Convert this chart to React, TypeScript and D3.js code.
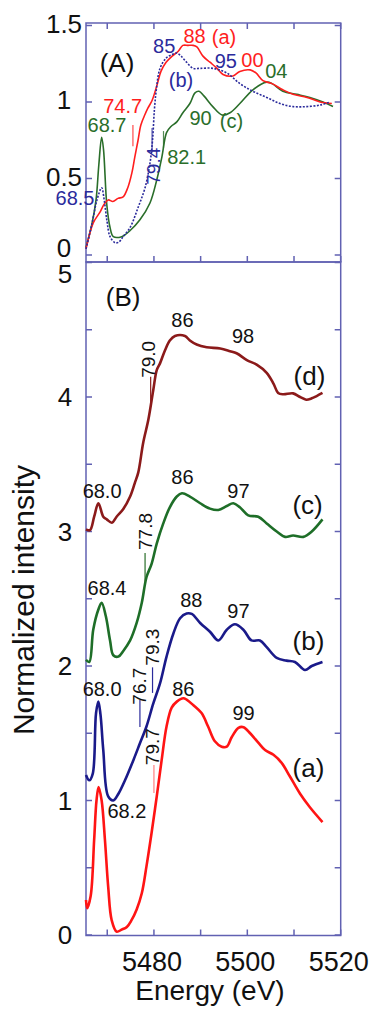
import React from "react";
import * as d3 from "d3";

// ---- data -------------------------------------------------------------

const energyRange = [5465.45, 5520];
const energyTicks = [5470, 5480, 5490, 5500, 5510, 5520];
const energyTickLabels = [5480, 5500, 5520];
const ticksA = [0, 0.5, 1, 1.5];
const ticksB = [0, 0.5, 1, 1.5, 2, 2.5, 3, 3.5, 4, 4.5, 5];
const tickLabelsB = [0, 1, 2, 3, 4, 5];

// panel (A): [energy, normalized intensity]
const curveAa = [
  [5465.45, 0.04], [5467.0, 0.21], [5468.45, 0.28], [5469.3, 0.33], [5470.2, 0.36],
  [5471.2, 0.35], [5472.3, 0.37], [5473.4, 0.38], [5474.4, 0.44], [5475.3, 0.54],
  [5475.9, 0.64], [5476.6, 0.75], [5477.2, 0.85], [5478.1, 0.92], [5478.7, 0.96],
  [5479.6, 1.01], [5480.65, 1.11], [5481.5, 1.2], [5482.6, 1.26], [5483.9, 1.3],
  [5485.15, 1.33], [5486.2, 1.37], [5487.3, 1.37], [5488.4, 1.37], [5489.2, 1.36],
  [5490.5, 1.3], [5492.0, 1.26], [5493.5, 1.22], [5494.8, 1.18], [5496.9, 1.17],
  [5498.4, 1.2], [5500.6, 1.21], [5501.85, 1.19], [5503.35, 1.14], [5505.3, 1.12],
  [5507.6, 1.08], [5509.8, 1.05], [5512.8, 1.03], [5515.6, 1.0], [5518.1, 0.99],
];
const curveAb = [
  [5465.45, 0.04], [5466.7, 0.2], [5467.8, 0.36], [5468.8, 0.44], [5469.3, 0.37],
  [5469.95, 0.22], [5470.6, 0.12], [5471.7, 0.08], [5472.5, 0.085], [5473.4, 0.12],
  [5474.9, 0.18], [5476.6, 0.31], [5478.1, 0.44], [5479.15, 0.6], [5479.7, 0.75],
  [5480.1, 0.95], [5480.55, 1.09], [5481.3, 1.22], [5482.7, 1.29], [5483.9, 1.31],
  [5484.9, 1.32], [5485.8, 1.3], [5487.0, 1.26], [5488.4, 1.22], [5489.9, 1.22],
  [5492.6, 1.22], [5495.6, 1.19], [5498.4, 1.12], [5501.2, 1.07], [5504.15, 1.03],
  [5507.0, 0.99], [5509.8, 0.97], [5512.7, 0.97], [5515.6, 0.98], [5517.7, 1.0],
];
const curveAc = [
  [5465.45, 0.05], [5466.7, 0.2], [5467.6, 0.36], [5468.2, 0.59], [5468.8, 0.77],
  [5469.2, 0.69], [5469.9, 0.33], [5470.6, 0.18], [5471.3, 0.12], [5473.1, 0.12],
  [5474.9, 0.16], [5477.0, 0.23], [5479.15, 0.34], [5480.6, 0.49], [5481.7, 0.64],
  [5482.7, 0.8], [5483.65, 0.84], [5484.9, 0.87], [5486.2, 0.93], [5487.7, 0.99],
  [5488.8, 1.06], [5489.65, 1.07], [5490.7, 1.04], [5492.6, 0.97], [5494.6, 0.915],
  [5496.3, 0.93], [5498.4, 0.99], [5501.2, 1.08], [5504.15, 1.13], [5505.3, 1.12],
  [5507.6, 1.07], [5510.6, 1.05], [5513.4, 1.03], [5516.2, 1.0], [5518.35, 0.97],
];

// panel (B): [energy, normalized intensity]
const curveBa = [
  [5465.45, 0.26], [5465.7, 0.2], [5466.45, 0.29], [5467.2, 0.71], [5467.7, 1.0],
  [5468.15, 1.1], [5468.8, 1.0], [5469.5, 0.71], [5470.2, 0.36], [5470.95, 0.11],
  [5472.0, 0.025], [5473.1, 0.04], [5474.2, 0.06], [5475.2, 0.11], [5476.3, 0.19],
  [5477.4, 0.31], [5478.4, 0.51], [5479.5, 0.76], [5480.6, 1.03], [5481.65, 1.3],
  [5482.7, 1.55], [5483.8, 1.69], [5484.9, 1.735], [5486.3, 1.76], [5487.0, 1.75],
  [5488.4, 1.71], [5490.2, 1.65], [5491.6, 1.55], [5493.05, 1.44], [5494.5, 1.4],
  [5495.6, 1.4], [5496.65, 1.47], [5498.1, 1.54], [5499.2, 1.545], [5500.6, 1.5],
  [5502.35, 1.43], [5503.8, 1.375], [5505.6, 1.34], [5507.35, 1.28], [5509.1, 1.18],
  [5511.3, 1.05], [5513.4, 0.95], [5516.1, 0.84],
];
const curveBb = [
  [5465.45, 1.19], [5466.15, 1.15], [5466.9, 1.2], [5467.6, 1.65], [5468.1, 1.735],
  [5468.55, 1.64], [5469.15, 1.375], [5470.2, 1.03], [5471.3, 1.0], [5472.4, 1.05],
  [5473.8, 1.15], [5475.6, 1.3], [5477.0, 1.425], [5478.4, 1.55], [5479.85, 1.72],
  [5481.3, 1.87], [5482.7, 2.07], [5484.15, 2.24], [5485.6, 2.355], [5487.0, 2.39],
  [5488.1, 2.387], [5489.9, 2.32], [5492.0, 2.255], [5493.8, 2.19], [5495.6, 2.27],
  [5497.35, 2.31], [5499.15, 2.27], [5500.9, 2.19], [5502.7, 2.19], [5504.15, 2.14],
  [5506.3, 2.06], [5508.4, 2.04], [5510.2, 2.03], [5512.35, 1.97], [5513.8, 2.0],
  [5516.1, 2.03],
];
const curveBc = [
  [5465.45, 2.045], [5466.15, 2.03], [5467.0, 2.27], [5468.1, 2.42], [5468.8, 2.47],
  [5469.7, 2.37], [5470.6, 2.19], [5471.3, 2.08], [5472.4, 2.07], [5473.4, 2.11],
  [5474.9, 2.19], [5476.3, 2.32], [5477.4, 2.47], [5478.4, 2.66], [5479.5, 2.76],
  [5480.6, 2.91], [5482.0, 3.06], [5483.4, 3.18], [5484.9, 3.26], [5486.0, 3.284],
  [5487.7, 3.26], [5489.9, 3.21], [5492.0, 3.17], [5493.8, 3.16], [5495.6, 3.19],
  [5497.0, 3.21], [5498.4, 3.18], [5500.2, 3.12], [5502.35, 3.11], [5504.15, 3.06],
  [5506.3, 3.0], [5508.1, 2.96], [5509.8, 2.97], [5512.0, 2.96], [5513.8, 3.0],
  [5516.1, 3.09],
];
const curveBd = [
  [5465.45, 3.016], [5466.3, 3.01], [5467.2, 3.11], [5468.1, 3.21], [5469.15, 3.11],
  [5469.9, 3.09], [5471.0, 3.065], [5472.0, 3.11], [5473.4, 3.165], [5474.9, 3.26],
  [5475.9, 3.36], [5476.65, 3.44], [5477.7, 3.66], [5478.8, 3.83], [5479.85, 4.05],
  [5480.6, 4.2], [5481.3, 4.25], [5482.4, 4.35], [5483.4, 4.42], [5484.5, 4.454],
  [5486.65, 4.454], [5487.7, 4.42], [5489.15, 4.39], [5491.3, 4.37], [5494.2, 4.36],
  [5496.3, 4.34], [5497.7, 4.325], [5499.9, 4.275], [5502.0, 4.24], [5504.15, 4.18],
  [5505.6, 4.1], [5506.6, 4.03], [5507.7, 4.02], [5509.8, 4.027], [5511.3, 4.0],
  [5512.6, 3.98], [5513.8, 3.99], [5514.85, 4.007], [5516.1, 4.03],
];

// edge markers: [energy, from, to, colour key]
const markersA = [
  [5475.5, 0.71, 0.85, "a"],
  [5479.6, 0.67, 0.83, "b"],
  [5482.05, 0.7, 0.81, "c"],
];
const markersB = [
  [5479.3, 3.96, 4.15, "d"],
  [5478.1, 2.625, 2.84, "c"],
  [5479.7, 1.8, 1.99, "b"],
  [5477.0, 1.546, 1.747, "b"],
  [5480.0, 1.056, 1.264, "am"],
];

// labels: [text, energy, intensity, colour key, rotated]
const labelsA = [
  ["85", 5482.2, 1.32, "b", 0],
  ["88", 5488.7, 1.386, "a", 0],
  ["(a)", 5495.0, 1.38, "a", 0],
  ["95", 5495.4, 1.22, "b", 0],
  ["00", 5501.1, 1.23, "a", 0],
  ["04", 5506.2, 1.157, "c", 0],
  ["(b)", 5485.8, 1.1, "b", 0],
  ["74.7", 5473.3, 0.928, "a", 0],
  ["68.7", 5469.95, 0.804, "c", 0],
  ["90", 5490.0, 0.85, "c", 0],
  ["(c)", 5496.6, 0.83, "c", 0],
  ["82.1", 5487.0, 0.595, "c", 0],
  ["68.5", 5463.1, 0.325, "b", 0],
  ["79.4", 5479.9, 0.58, "b", 1],
];
const labelsB = [
  ["86", 5486.1, 4.52, "k", 0],
  ["98", 5499.1, 4.4, "k", 0],
  ["(d)", 5513.3, 4.09, "k", 0],
  ["79.0", 5478.9, 4.28, "k", 1],
  ["68.0", 5468.9, 3.25, "k", 0],
  ["86", 5486.1, 3.35, "k", 0],
  ["97", 5498.1, 3.25, "k", 0],
  ["(c)", 5512.9, 3.13, "k", 0],
  ["77.8", 5478.1, 3.0, "k", 1],
  ["68.4", 5469.95, 2.53, "k", 0],
  ["88", 5488.0, 2.44, "k", 0],
  ["97", 5498.1, 2.36, "k", 0],
  ["(b)", 5513.1, 2.12, "k", 0],
  ["79.3", 5479.6, 2.14, "k", 1],
  ["76.7", 5477.0, 1.85, "k", 1],
  ["68.0", 5468.9, 1.78, "k", 0],
  ["86", 5486.3, 1.78, "k", 0],
  ["99", 5499.2, 1.6, "k", 0],
  ["(a)", 5513.1, 1.175, "k", 0],
  ["79.7", 5479.7, 1.4, "k", 1],
  ["68.2", 5474.2, 0.87, "k", 0],
];

// ---- styles ------------------------------------------------------------

const colors = {
  a: "#ff1e1e",
  b: "#2b2b9c",
  c: "#2a6e2a",
  k: "#111",
  d: "#8b1c1c",
  am: "#ff8080",
};
const bColors = { a: "#ff1414", b: "#1a1a8a", c: "#1e6e28", d: "#8b1a1a" };
const frame = "#6161b2";
const font = "'Liberation Sans', Arial, Helvetica, sans-serif";

const left = 86;
const right = 340.7;

export default function App() {
  const x = d3.scaleLinear().domain(energyRange).range([left, right]);
  const yA = d3.scaleLinear().domain([0, 1.5]).range([255, 25.5]);
  const yB = d3.scaleLinear().domain([0, 5]).range([935, 262.5]);
  const topA = 23;
  const botA = 262;
  const botB = 935.5;

  const lineA = d3
    .line<number[]>()
    .x((d) => x(d[0]))
    .y((d) => yA(d[1]))
    .curve(d3.curveCatmullRom.alpha(0.5));
  const lineB = d3
    .line<number[]>()
    .x((d) => x(d[0]))
    .y((d) => yB(d[1]))
    .curve(d3.curveCatmullRom.alpha(0.5));

  const tick = 6;

  const renderLabel = (l: any[], y: any, size: number, key: string, col: any) => {
    const px = x(l[1]);
    const py = y(l[2]);
    if (l[4]) {
      return (
        <text
          key={key}
          transform={`translate(${px},${py}) rotate(-90)`}
          textAnchor="middle"
          dominantBaseline="central"
          fontSize={size - 1}
          fill={col[l[3]]}
        >
          {l[0]}
        </text>
      );
    }
    return (
      <text key={key} x={px} y={py} textAnchor="middle" fontSize={size} fill={col[l[3]]}>
        {l[0]}
      </text>
    );
  };

  // the "0" of (A) and the "5" of (B) sit on the same line, nudge them apart
  const labelShiftA = (v: number) => (v === 0 ? -7 : -2);
  const labelShiftB = (v: number) => (v === 5 ? 11 : 0);

  return (
    <svg
      width={376}
      height={1009}
      style={{ position: "absolute", left: 0, top: 0, background: "#fff" }}
      fontFamily={font}
    >
      <rect width={376} height={1009} fill="#fff" />

      {/* frames */}
      <rect x={left} y={topA} width={right - left} height={botA - topA} fill="none" stroke={frame} strokeWidth={1.5} />
      <rect x={left} y={botA} width={right - left} height={botB - botA} fill="none" stroke={frame} strokeWidth={1.5} />

      {/* x ticks */}
      {energyTicks.map((e) => (
        <g key={"xt" + e} stroke={frame} strokeWidth={1.5}>
          <line x1={x(e)} x2={x(e)} y1={topA} y2={topA + tick} />
          <line x1={x(e)} x2={x(e)} y1={botA} y2={botA - tick} />
          <line x1={x(e)} x2={x(e)} y1={botB} y2={botB - tick} />
        </g>
      ))}
      {energyTickLabels.map((e) => (
        <text key={"xl" + e} x={x(e) - 2} y={971} textAnchor="middle" fontSize={27} fill="#111">
          {e}
        </text>
      ))}

      {/* y ticks A */}
      {ticksA.map((v) => (
        <g key={"ya" + v}>
          <line x1={left} x2={left + tick} y1={yA(v)} y2={yA(v)} stroke={frame} strokeWidth={1.5} />
          <line x1={right} x2={right - tick} y1={yA(v)} y2={yA(v)} stroke={frame} strokeWidth={1.5} />
          <text x={64} y={yA(v) + labelShiftA(v)} textAnchor="middle" dominantBaseline="central" fontSize={26} fill="#111">
            {v}
          </text>
        </g>
      ))}

      {/* y ticks B */}
      {ticksB.map((v) => (
        <g key={"yb" + v} stroke={frame} strokeWidth={1.5}>
          <line x1={left} x2={left + tick} y1={yB(v)} y2={yB(v)} />
          <line x1={right} x2={right - tick} y1={yB(v)} y2={yB(v)} />
        </g>
      ))}
      {tickLabelsB.map((v) => (
        <text
          key={"ybl" + v}
          x={65}
          y={yB(v) + labelShiftB(v)}
          textAnchor="middle"
          dominantBaseline="central"
          fontSize={26}
          fill="#111"
        >
          {v}
        </text>
      ))}

      {/* axis titles */}
      <text x={210} y={1000} textAnchor="middle" fontSize={28} fill="#111">
        Energy (eV)
      </text>
      <text transform="translate(34,600) rotate(-90)" textAnchor="middle" fontSize={30} fill="#111">
        Normalized intensity
      </text>

      {/* panel labels */}
      <text x={x(5472.1)} y={yA(1.196)} textAnchor="middle" fontSize={26} fill="#111">
        (A)
      </text>
      <text x={x(5473.4)} y={yB(4.677)} textAnchor="middle" fontSize={26} fill="#111">
        (B)
      </text>

      {/* panel A curves */}
      <path d={lineA(curveAc) ?? ""} fill="none" stroke={colors.c} strokeWidth={1.6} />
      <path d={lineA(curveAa) ?? ""} fill="none" stroke={colors.a} strokeWidth={1.6} />
      <path d={lineA(curveAb) ?? ""} fill="none" stroke={colors.b} strokeWidth={1.6} strokeDasharray="2,1.5" />
      {markersA.map((m, i) => (
        <line
          key={"ma" + i}
          x1={x(m[0] as number)}
          x2={x(m[0] as number)}
          y1={yA(m[1] as number)}
          y2={yA(m[2] as number)}
          stroke={(colors as any)[m[3] as string]}
          strokeWidth={1.2}
          opacity={0.8}
        />
      ))}
      {labelsA.map((l, i) => renderLabel(l, yA, 20, "la" + i, colors))}

      {/* panel B curves */}
      <path d={lineB(curveBd) ?? ""} fill="none" stroke={bColors.d} strokeWidth={2.6} />
      <path d={lineB(curveBc) ?? ""} fill="none" stroke={bColors.c} strokeWidth={2.6} />
      <path d={lineB(curveBb) ?? ""} fill="none" stroke={bColors.b} strokeWidth={2.6} />
      <path d={lineB(curveBa) ?? ""} fill="none" stroke={bColors.a} strokeWidth={2.6} />
      {markersB.map((m, i) => (
        <line
          key={"mb" + i}
          x1={x(m[0] as number)}
          x2={x(m[0] as number)}
          y1={yB(m[1] as number)}
          y2={yB(m[2] as number)}
          stroke={(colors as any)[m[3] as string]}
          strokeWidth={1.2}
        />
      ))}
      {labelsB.map((l, i) => renderLabel(l, yB, (l[0] as string).startsWith("(") ? 26 : 20, "lb" + i, colors))}
    </svg>
  );
}
